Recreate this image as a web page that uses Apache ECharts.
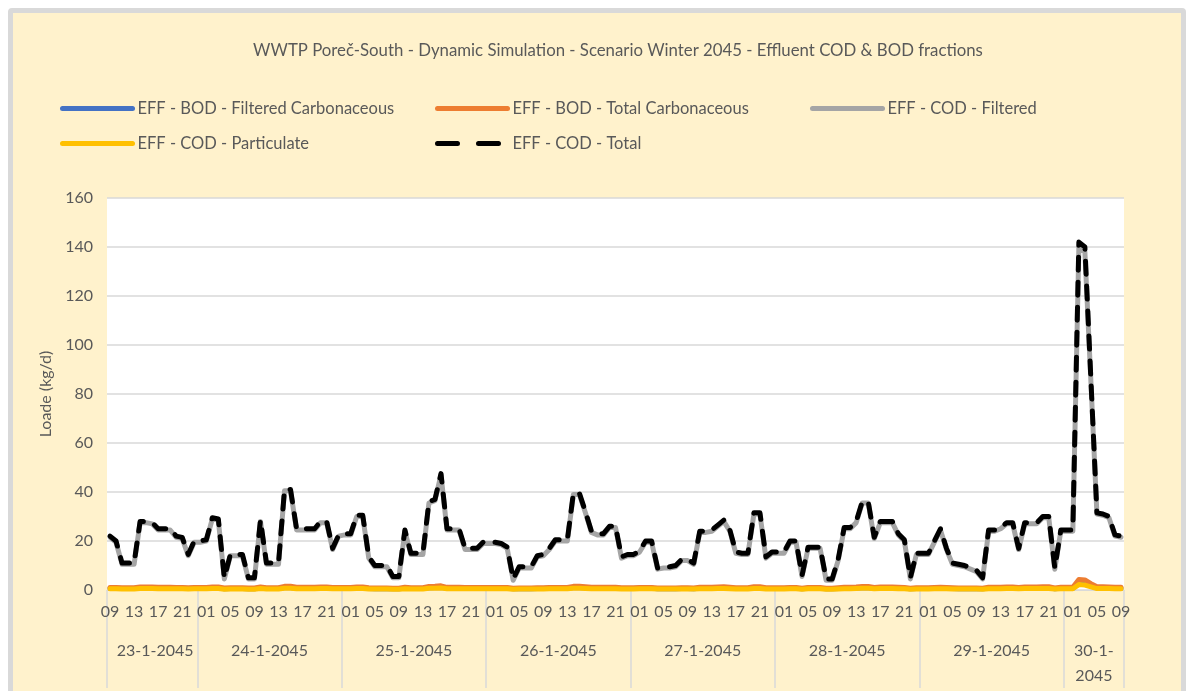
<!DOCTYPE html>
<html>
<head>
<meta charset="utf-8">
<title>WWTP Poreč-South - Effluent COD & BOD fractions</title>
<script src="https://cdn.jsdelivr.net/npm/echarts@6/dist/echarts.min.js"></script>
<style>
  html, body { margin: 0; padding: 0; background: #ffffff; }
  #frame {
    position: absolute; left: 8px; top: 8px; width: 1178px; height: 692px;
    box-sizing: border-box; border: 5px solid #D9D9D9; border-radius: 4px;
    background: #FFF2CC;
  }
  #chart { position: absolute; left: 0; top: 0; width: 1192px; height: 691px; }
</style>
</head>
<body>
<div id="frame"></div>
<div id="chart"></div>
<script>
// Simulation days and how many hourly steps each one covers (23-1 starts at 09:00, 30-1 ends at 09:00)
const days = ['23-1-2045', '24-1-2045', '25-1-2045', '26-1-2045', '27-1-2045', '28-1-2045', '29-1-2045', '30-1-2045'];
const dayHours = [15, 24, 24, 24, 24, 24, 24, 10];
const firstHour = 9;

const seriesNames = [
  'EFF - BOD - Filtered Carbonaceous',
  'EFF - BOD - Total Carbonaceous',
  'EFF - COD - Filtered',
  'EFF - COD - Particulate',
  'EFF - COD - Total'
];

// Hourly effluent loads, kg/d
const bodFiltered = [
  0.7,0.7,0.6,0.6,0.6,0.8,0.8,0.8,0.7,0.7,0.7,0.7,0.7,0.6,0.7,
  0.7,0.7,0.8,0.8,0.5,0.6,0.6,0.6,0.5,0.5,0.8,0.6,0.6,0.6,1,1,0.7,0.7,0.7,0.7,0.8,0.8,0.7,0.7,
  0.7,0.7,0.8,0.8,0.6,0.5,0.5,0.5,0.5,0.5,0.7,0.6,0.6,0.6,0.9,1,1.1,0.7,0.7,0.7,0.7,0.7,0.7,0.7,
  0.7,0.7,0.7,0.7,0.5,0.5,0.5,0.5,0.6,0.6,0.7,0.7,0.7,0.7,1,1,0.9,0.7,0.7,0.7,0.7,0.7,0.6,0.6,
  0.6,0.7,0.7,0.7,0.5,0.5,0.5,0.5,0.6,0.6,0.5,0.7,0.7,0.7,0.8,0.9,0.7,0.6,0.6,0.6,0.9,0.9,0.6,0.6,
  0.6,0.6,0.7,0.7,0.5,0.7,0.7,0.7,0.5,0.5,0.6,0.7,0.7,0.8,0.9,0.9,0.7,0.8,0.8,0.8,0.7,0.7,0.5,0.6,
  0.6,0.6,0.7,0.7,0.7,0.6,0.5,0.5,0.5,0.5,0.5,0.7,0.7,0.7,0.8,0.8,0.7,0.8,0.8,0.8,0.9,0.9,0.5,0.7,
  0.7,0.7,2.9,2.7,1.7,0.9,0.9,0.8,0.7,0.7
];

const bodTotal = [
  1,1,0.9,0.9,0.9,1.2,1.2,1.2,1.1,1.1,1.1,1,1,0.9,1,
  1,1,1.2,1.2,0.8,0.9,0.9,0.9,0.8,0.8,1.2,0.9,0.9,0.9,1.5,1.5,1.1,1.1,1.1,1.1,1.2,1.2,1,1,
  1,1,1.2,1.2,0.9,0.8,0.8,0.8,0.7,0.7,1.1,0.9,0.9,0.9,1.4,1.5,1.7,1.1,1.1,1.1,1,1,1,1,
  1,1,1,1,0.7,0.8,0.8,0.8,0.9,0.9,1,1,1,1,1.5,1.5,1.3,1.1,1.1,1.1,1.1,1.1,0.9,0.9,
  0.9,1,1,1,0.8,0.8,0.8,0.8,0.9,0.9,0.8,1.1,1.1,1.1,1.2,1.3,1.1,0.9,0.9,0.9,1.3,1.3,0.9,0.9,
  0.9,0.9,1,1,0.7,1,1,1,0.7,0.7,0.9,1.1,1.1,1.2,1.4,1.4,1,1.2,1.2,1.2,1.1,1,0.7,0.9,
  0.9,0.9,1,1.1,1,0.9,0.8,0.8,0.8,0.8,0.7,1.1,1.1,1.1,1.2,1.2,1,1.2,1.2,1.2,1.3,1.3,0.8,1.1,
  1.1,1.1,4.3,4.1,2.6,1.3,1.3,1.2,1.1,1.1
];

const codFiltered = [
  21.5,19.5,10.5,10.5,10.5,27.5,27.5,27,24.5,24.5,24.5,21.5,21,14,19.5,
  19.5,20,29,28.5,4.5,14,14,14,4.5,4.5,28,10.5,10.5,10.5,40.5,40.5,24.5,24.5,24.5,24.5,27.5,27.5,16.5,22,
  22.5,22.5,30,30,13,9.5,9.5,9.5,5,5,24,14.5,14.5,14.5,35.5,36.5,47,24.5,24.5,24.5,16.5,16.5,16.5,19,
  19,19,18.5,17,4,9,9,9,13.5,14,16.5,20,20,20,39,39,31.5,23.5,22.5,22.5,25.5,25.5,13,14,
  14,15.5,19.5,19.5,8.5,9,9,9.5,12,12,10.5,23.5,23.5,24,26,28,24,15,14.5,14.5,31,31,13,15,
  15,15,19.5,19.5,5.5,17,17,17,4,4,12,25,25,27.5,35.5,35.5,21,27.5,27.5,27.5,22.5,20,4.5,14.5,
  14.5,14.5,19.5,24.5,16.5,10.5,10,9.5,8.5,7.5,4.5,24,24,25,27,27,16.5,27,27,27,29.5,29.5,8.5,24,
  24,24,140,138,85,31,30.5,29.5,22,21.5
];

const codParticulate = [
  0.5,0.5,0.4,0.4,0.4,0.6,0.6,0.6,0.5,0.5,0.5,0.5,0.5,0.4,0.5,
  0.5,0.5,0.6,0.6,0.3,0.4,0.4,0.4,0.3,0.3,0.6,0.4,0.4,0.4,0.7,0.7,0.5,0.5,0.5,0.5,0.6,0.6,0.5,0.5,
  0.5,0.5,0.6,0.6,0.4,0.4,0.4,0.4,0.3,0.3,0.5,0.4,0.4,0.4,0.7,0.7,0.8,0.5,0.5,0.5,0.5,0.5,0.5,0.5,
  0.5,0.5,0.5,0.5,0.3,0.4,0.4,0.4,0.4,0.4,0.5,0.5,0.5,0.5,0.7,0.7,0.6,0.5,0.5,0.5,0.5,0.5,0.4,0.4,
  0.4,0.5,0.5,0.5,0.4,0.4,0.4,0.4,0.4,0.4,0.4,0.5,0.5,0.5,0.6,0.6,0.5,0.4,0.4,0.4,0.6,0.6,0.4,0.4,
  0.4,0.4,0.5,0.5,0.3,0.5,0.5,0.5,0.3,0.3,0.4,0.5,0.5,0.6,0.7,0.7,0.5,0.6,0.6,0.6,0.5,0.5,0.3,0.4,
  0.4,0.4,0.5,0.5,0.5,0.4,0.4,0.4,0.4,0.4,0.3,0.5,0.5,0.5,0.6,0.6,0.5,0.6,0.6,0.6,0.6,0.6,0.4,0.5,
  0.5,0.5,2.2,2.0,1.3,0.6,0.6,0.6,0.5,0.5
];

const codTotal = [
  22,20,11,11,11,28,28,27.5,25,25,25,22,21.5,14.5,20,
  20,20.5,29.5,29,5,14.5,14.5,14.5,5,5,28.5,11,11,11,41,41,25,25,25,25,28,28,17,22.5,
  23,23,30.5,30.5,13.5,10,10,10,5.5,5.5,24.5,15,15,15,36,37,47.5,25,25,25,17,17,17,19.5,
  19.5,19.5,19,17.5,4.5,9.5,9.5,9.5,14,14.5,17,20.5,20.5,20.5,39.5,39.5,32,24,23,23,26,26,13.5,14.5,
  14.5,16,20,20,9,9.5,9.5,10,12.5,12.5,11,24,24,24.5,26.5,28.5,24.5,15.5,15,15,31.5,31.5,13.5,15.5,
  15.5,15.5,20,20,6,17.5,17.5,17.5,4.5,4.5,12.5,25.5,25.5,28,36,36,21.5,28,28,28,23,20.5,5,15,
  15,15,20,25,17,11,10.5,10,9,8,5,24.5,24.5,25.5,27.5,27.5,17,27.5,27.5,27.5,30,30,9,24.5,
  24.5,24.5,142,140,86,31.5,31,30,22.5,22
];

const yTicks = { min: 0, max: 160, step: 20 };

// Hour-of-day and day name for every hourly step
const hourCats = [];
const dayCats = [];
const dayStartIdx = [];
const dayLabelIdx = [];
let h = firstHour;
days.forEach(function (d, k) {
  dayStartIdx.push(hourCats.length);
  dayLabelIdx.push(hourCats.length + Math.ceil(dayHours[k] / 2));
  for (let j = 0; j < dayHours[k]; j++) {
    hourCats.push(String(h % 24).padStart(2, '0'));
    dayCats.push(d);
    h++;
  }
});

const FONT = 'Lato, "Open Sans", sans-serif';
const TXT = '#595959';
const GRID_LINE = '#D9D9D9';
const colors = ['#4472C4', '#ED7D31', '#A5A5A5', '#FFC000', '#000000'];
const values = [bodFiltered, bodTotal, codFiltered, codParticulate, codTotal];

const series = seriesNames.map(function (name, i) {
  return {
    name: name,
    type: 'line',
    data: values[i],
    symbol: 'none',
    showSymbol: false,
    silent: true,
    z: 2 + i,
    color: colors[i],
    lineStyle: {
      color: colors[i],
      width: 5,
      cap: 'round',
      join: 'round',
      type: i === 4 ? [13, 12] : 'solid'
    },
    emphasis: { disabled: true }
  };
});

// legend placement: three columns, two rows
const legendPos = [[60, 100], [435, 100], [810, 100], [60, 135], [435, 135]];
const legends = seriesNames.map(function (name, i) {
  const item = { name: name };
  if (i === 4) item.lineStyle = { type: [20, 21] };
  return {
    left: legendPos[i][0],
    top: legendPos[i][1],
    padding: 0,
    itemWidth: 70,
    itemHeight: 14,
    itemGap: 0,
    selectedMode: false,
    itemStyle: { color: 'rgba(0,0,0,0)', borderWidth: 0, opacity: 0 },
    lineStyle: { width: 5, cap: 'round' },
    textStyle: { color: TXT, fontSize: 16.5, fontFamily: FONT },
    data: [item]
  };
});

const chart = echarts.init(document.getElementById('chart'), null, { renderer: 'canvas' });
chart.setOption({
  animation: false,
  backgroundColor: 'transparent',
  textStyle: { fontFamily: FONT },
  title: {
    text: 'WWTP Poreč-South - Dynamic Simulation - Scenario Winter 2045 - Effluent COD & BOD fractions',
    left: 613,
    top: 37,
    textAlign: 'center',
    textStyle: { color: TXT, fontSize: 16.8, fontWeight: 'normal', fontFamily: FONT }
  },
  legend: legends,
  grid: {
    left: 107, right: 68, top: 198, bottom: 101,
    show: true, backgroundColor: '#ffffff', borderWidth: 0
  },
  xAxis: [
    {
      type: 'category',
      data: hourCats,
      boundaryGap: true,
      axisLine: { show: true, lineStyle: { color: GRID_LINE, width: 1 } },
      axisTick: { show: false },
      axisLabel: { interval: 3, color: TXT, fontSize: 16, fontFamily: FONT, margin: 14 },
      splitLine: { show: false }
    },
    {
      type: 'category',
      data: dayCats,
      position: 'bottom',
      boundaryGap: true,
      axisLine: { show: false },
      axisTick: {
        show: true,
        length: 98,
        interval: function (idx) { return dayStartIdx.indexOf(idx) >= 0; },
        lineStyle: { color: GRID_LINE, width: 1.5 }
      },
      axisLabel: {
        color: TXT, fontSize: 16, fontFamily: FONT,
        margin: 48, lineHeight: 25, padding: [0, 6, 0, 0],
        interval: function (idx) { return dayLabelIdx.indexOf(idx) >= 0; },
        formatter: function (value) {
          const k = days.indexOf(value);
          return dayHours[k] < 12 ? value.replace(/-(\d{4})$/, '-\n$1') : value;
        }
      },
      splitLine: { show: false }
    }
  ],
  yAxis: {
    type: 'value',
    min: yTicks.min,
    max: yTicks.max,
    interval: yTicks.step,
    name: 'Loade (kg/d)',
    nameLocation: 'middle',
    nameGap: 47,
    nameTextStyle: { color: TXT, fontSize: 16, fontFamily: FONT },
    axisLine: { show: false },
    axisTick: { show: false },
    axisLabel: { color: TXT, fontSize: 16, fontFamily: FONT, margin: 14 },
    splitLine: { lineStyle: { color: GRID_LINE, width: 1.5 } }
  },
  series: series
});
</script>
</body>
</html>
